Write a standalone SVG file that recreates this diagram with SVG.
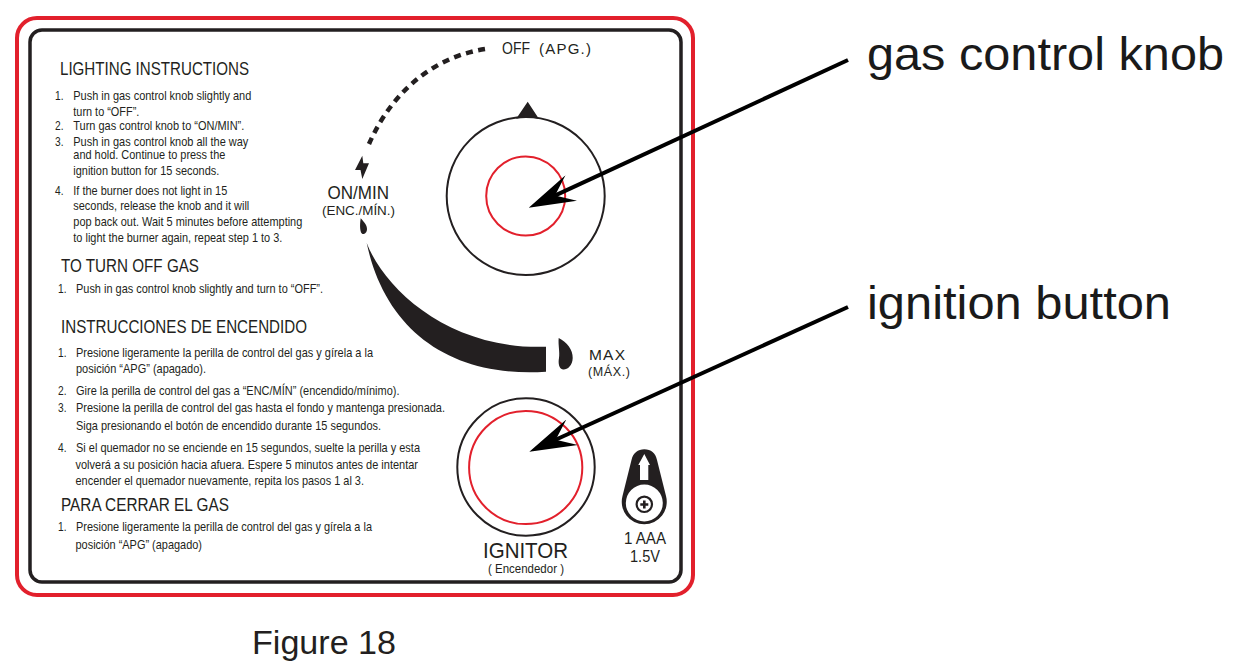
<svg xmlns="http://www.w3.org/2000/svg" width="1242" height="665" viewBox="0 0 1242 665">
<defs>
<style>
text{font-family:"Liberation Sans",Arial,sans-serif;fill:#231f20}
.b{font-size:13px}
.h{font-size:18.500px}
.big{font-size:47px;fill:#1a1a1a}
.ink{fill:#231f20;stroke:none}
.ring{fill:none;stroke:#231f20;stroke-width:2}
.red{fill:none;stroke:#e2202c;stroke-width:2}
.lead{fill:none;stroke:#000;stroke-width:4;marker-end:url(#head)}
</style>
<marker id="head" markerUnits="userSpaceOnUse" viewBox="0 0 47 28" markerWidth="47" markerHeight="28" refX="20" refY="14" orient="auto"><path d="M0,0L47,14L0,28L18,14Z" fill="#000"/></marker>
</defs>
<rect width="1242" height="665" fill="#fff"/>
<g id="panel">
<rect x="17" y="18" width="676" height="577" rx="20" fill="none" stroke="#e2202c" stroke-width="4"/>
<rect x="30" y="30" width="651" height="552" rx="12" fill="none" stroke="#231f20" stroke-width="3.5"/>
</g>
<g id="lighting-instructions">
<text class="h" x="60" y="75" textLength="189" lengthAdjust="spacingAndGlyphs">LIGHTING INSTRUCTIONS</text>
<text class="b" x="55" y="100" textLength="8.500" lengthAdjust="spacingAndGlyphs">1.</text><text class="b" x="73.300" y="100" textLength="178" lengthAdjust="spacingAndGlyphs">Push in gas control knob slightly and</text>
<text class="b" x="73.300" y="115.700" textLength="66" lengthAdjust="spacingAndGlyphs">turn to “OFF”.</text>
<text class="b" x="55" y="130" textLength="8.500" lengthAdjust="spacingAndGlyphs">2.</text><text class="b" x="73.300" y="130" textLength="171" lengthAdjust="spacingAndGlyphs">Turn gas control knob to “ON/MIN”.</text>
<text class="b" x="55" y="145.700" textLength="8.500" lengthAdjust="spacingAndGlyphs">3.</text><text class="b" x="73.300" y="145.700" textLength="175" lengthAdjust="spacingAndGlyphs">Push in gas control knob all the way</text>
<text class="b" x="73.300" y="159" textLength="152" lengthAdjust="spacingAndGlyphs">and hold. Continue to press the</text>
<text class="b" x="73.300" y="175" textLength="146" lengthAdjust="spacingAndGlyphs">ignition button for 15 seconds.</text>
<text class="b" x="55" y="195" textLength="8.500" lengthAdjust="spacingAndGlyphs">4.</text><text class="b" x="73.300" y="195" textLength="154" lengthAdjust="spacingAndGlyphs">If the burner does not light in 15</text>
<text class="b" x="73.300" y="210" textLength="176" lengthAdjust="spacingAndGlyphs">seconds, release the knob and it will</text>
<text class="b" x="73.300" y="226" textLength="229" lengthAdjust="spacingAndGlyphs">pop back out. Wait 5 minutes before attempting</text>
<text class="b" x="73.300" y="241.700" textLength="209" lengthAdjust="spacingAndGlyphs">to light the burner again, repeat step 1 to 3.</text>
<text class="h" x="61" y="271.700" textLength="138" lengthAdjust="spacingAndGlyphs">TO TURN OFF GAS</text>
<text class="b" x="58" y="293" textLength="8.500" lengthAdjust="spacingAndGlyphs">1.</text><text class="b" x="76" y="293" textLength="247" lengthAdjust="spacingAndGlyphs">Push in gas control knob slightly and turn to “OFF”.</text>
</g>
<g id="instrucciones-de-encendido">
<text class="h" x="61" y="332.700" textLength="246" lengthAdjust="spacingAndGlyphs">INSTRUCCIONES DE ENCENDIDO</text>
<text class="b" x="58" y="357" textLength="8.500" lengthAdjust="spacingAndGlyphs">1.</text><text class="b" x="76" y="357" textLength="297" lengthAdjust="spacingAndGlyphs">Presione ligeramente la perilla de control del gas y gírela a la</text>
<text class="b" x="76" y="373" textLength="130" lengthAdjust="spacingAndGlyphs">posición “APG” (apagado).</text>
<text class="b" x="58" y="395" textLength="8.500" lengthAdjust="spacingAndGlyphs">2.</text><text class="b" x="76" y="395" textLength="323.500" lengthAdjust="spacingAndGlyphs">Gire la perilla de control del gas a “ENC/MÍN” (encendido/mínimo).</text>
<text class="b" x="58" y="412" textLength="8.500" lengthAdjust="spacingAndGlyphs">3.</text><text class="b" x="76" y="412" textLength="369" lengthAdjust="spacingAndGlyphs">Presione la perilla de control del gas hasta el fondo y mantenga presionada.</text>
<text class="b" x="76" y="430" textLength="305" lengthAdjust="spacingAndGlyphs">Siga presionando el botón de encendido durante 15 segundos.</text>
<text class="b" x="58" y="451.700" textLength="8.500" lengthAdjust="spacingAndGlyphs">4.</text><text class="b" x="76" y="451.700" textLength="344" lengthAdjust="spacingAndGlyphs">Si el quemador no se enciende en 15 segundos, suelte la perilla y esta</text>
<text class="b" x="75.500" y="469" textLength="342.500" lengthAdjust="spacingAndGlyphs">volverá a su posición hacia afuera. Espere 5 minutos antes de intentar</text>
<text class="b" x="75.500" y="485" textLength="288.500" lengthAdjust="spacingAndGlyphs">encender el quemador nuevamente, repita los pasos 1 al 3.</text>
<text class="h" x="61" y="511" textLength="168" lengthAdjust="spacingAndGlyphs">PARA CERRAR EL GAS</text>
<text class="b" x="58" y="531" textLength="8.500" lengthAdjust="spacingAndGlyphs">1.</text><text class="b" x="76" y="531" textLength="296" lengthAdjust="spacingAndGlyphs">Presione ligeramente la perilla de control del gas y gírela a la</text>
<text class="b" x="75.500" y="549" textLength="126.500" lengthAdjust="spacingAndGlyphs">posición “APG” (apagado)</text>
</g>
<g id="dial-scale">
<path d="M485,49C440,56 395,85 369,144" fill="none" stroke="#231f20" stroke-width="4.500" stroke-dasharray="7 5.500"/>
<path class="ink" d="M362.300,155.700L355,170L360.500,170L362.300,179L369,163.300L363.300,163.300Z"/>
<path class="ink" d="M360.700,218.300C364,222 367,225 367,229C367,233 364,234.500 362.500,234C360,233 359.500,226 360.700,218.300Z"/>
<path class="ink" d="M366.700,243C385,290 450,350 546,346.700L546,371.700C450,378 385,330 366.700,243Z"/>
<path class="ink" d="M558.700,338C567,342 573,350 572.700,358C572.500,366 567,370 563,369.500C559,369 558,363 559,358C560,352 558,345 558.700,338Z"/>
<text x="502" y="54" font-size="16" textLength="28" lengthAdjust="spacingAndGlyphs">OFF</text>
<text x="539" y="54" font-size="15" textLength="52" lengthAdjust="spacing">(APG.)</text>
<text x="327.500" y="199" font-size="17.500" textLength="61.500" lengthAdjust="spacingAndGlyphs">ON/MIN</text>
<text x="322" y="215" font-size="13.500" textLength="73" lengthAdjust="spacingAndGlyphs">(ENC./MÍN.)</text>
<text x="589" y="360" font-size="15.500" textLength="36" lengthAdjust="spacing">MAX</text>
<text x="588" y="376" font-size="12.500" textLength="42" lengthAdjust="spacing">(MÁX.)</text>
</g>
<g id="gas-control-knob">
<path class="ink" d="M527.700,101.700L516,119C523,116.500 531,116.500 539,119Z"/>
<circle class="ring" cx="525.700" cy="196" r="79"/>
<circle class="red" cx="525.700" cy="196" r="39.500"/>
</g>
<g id="ignitor">
<circle class="ring" cx="526" cy="467" r="68.700"/>
<circle class="red" cx="525.700" cy="467.500" r="56.600"/>
<text x="483" y="558" font-size="22" textLength="85" lengthAdjust="spacingAndGlyphs">IGNITOR</text>
<text x="488" y="572.500" font-size="12" textLength="76" lengthAdjust="spacingAndGlyphs">( Encendedor )</text>
</g>
<g id="battery">
<path class="ink" d="M631.500,460C633,453 638,449.300 644.300,449.300C651,449.300 655.500,453 657,460L666,496A22.500,22.500 0 1 1 622.500,496Z"/>
<circle cx="644.300" cy="503" r="18.500" fill="#fff"/>
<circle cx="644.300" cy="504.300" r="7.700" fill="#fff" stroke="#231f20" stroke-width="2.200"/>
<path class="ink" d="M643,500.500h2.600v2.700h2.700v2.600h-2.700v2.700h-2.600v-2.700h-2.700v-2.600h2.700Z"/>
<path d="M644.300,454L650,465L648.300,465L648.300,480L640,480L640,465L638.300,465Z" fill="#fff"/>
<text x="624" y="543.700" font-size="16" textLength="42" lengthAdjust="spacingAndGlyphs">1 AAA</text>
<text x="630" y="561.700" font-size="16" textLength="30" lengthAdjust="spacingAndGlyphs">1.5V</text>
</g>
<g id="connectors">
<path class="lead" d="M848,60L553.200,196.400"/>
<path class="lead" d="M848,307L553.900,440.500"/>
</g>
<g id="callouts">
<text class="big" x="867" y="70" textLength="357" lengthAdjust="spacingAndGlyphs">gas control knob</text>
<text class="big" x="867" y="319" textLength="304" lengthAdjust="spacingAndGlyphs">ignition button</text>
<text x="252" y="654" font-size="33" textLength="144" lengthAdjust="spacingAndGlyphs" fill="#1a1a1a">Figure 18</text>
</g>
</svg>
